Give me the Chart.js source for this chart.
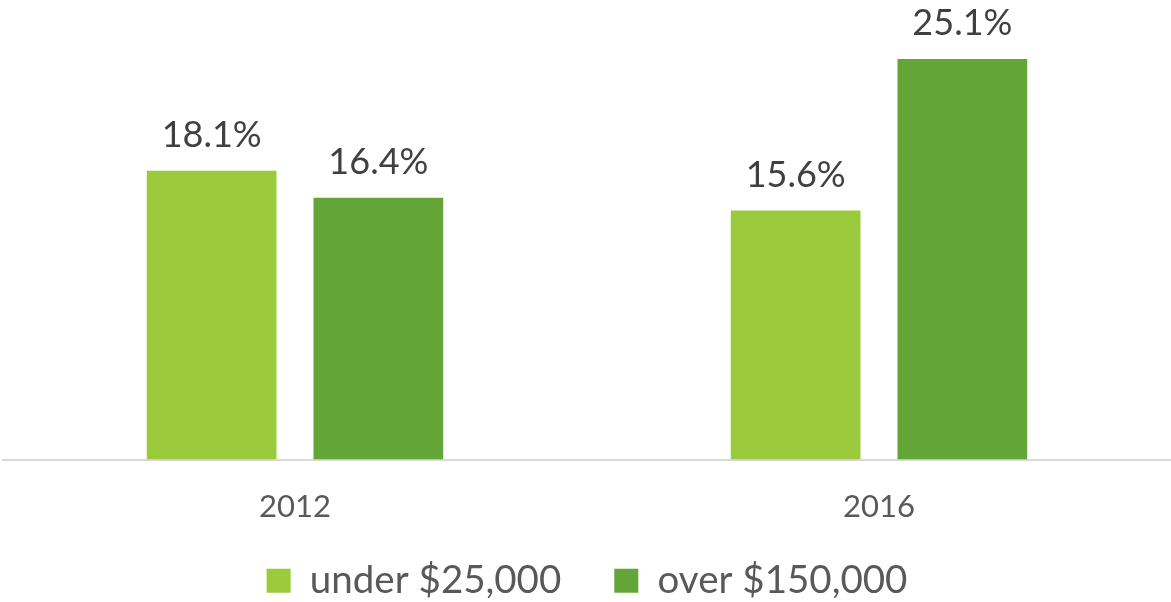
<!DOCTYPE html>
<html>
<head>
<meta charset="utf-8">
<script src="https://cdn.jsdelivr.net/npm/chart.js@4"></script>
<style>
  html, body { margin: 0; padding: 0; background: #ffffff; }
  #wrap { width: 1171px; height: 602px; }
</style>
</head>
<body>
<div id="wrap"><canvas id="chart"></canvas></div>
<script>
// chart data
const years = ['2012', '2016'];
const seriesNames = ['under $25,000', 'over $150,000'];
const under25k = [18.1, 15.6];
const over150k = [16.4, 25.1];

const lightGreen = '#9bcb3c';
const darkGreen = '#63a537';
const fontFamily = 'Lato, "Open Sans", sans-serif';

// draws the value above each bar
const valueLabels = {
    id: 'valueLabels',
    afterDatasetsDraw(chart) {
        const ctx = chart.ctx;
        ctx.save();
        ctx.font = '36px ' + fontFamily;
        ctx.fillStyle = '#404040';
        ctx.textAlign = 'center';
        ctx.textBaseline = 'alphabetic';
        chart.data.datasets.forEach((ds, i) => {
            chart.getDatasetMeta(i).data.forEach((bar, j) => {
                ctx.fillText(ds.data[j].toFixed(1) + '%', bar.x, bar.y - 24);
            });
        });
        ctx.restore();
    }
};

new Chart(document.getElementById('chart').getContext('2d'), {
    type: 'bar',
    data: {
        labels: years,
        datasets: [
            { label: seriesNames[0], data: under25k, backgroundColor: lightGreen },
            { label: seriesNames[1], data: over150k, backgroundColor: darkGreen }
        ]
    },
    options: {
        responsive: true,
        maintainAspectRatio: false,
        animation: false,
        layout: { padding: { left: 3, right: 0, top: 0, bottom: -8 } },
        categoryPercentage: 0.571,
        barPercentage: 0.778,
        plugins: {
            legend: {
                position: 'bottom',
                labels: {
                    boxWidth: 24,
                    boxHeight: 24,
                    padding: 53,
                    color: '#595959',
                    font: { family: fontFamily, size: 38.5 }
                }
            },
            tooltip: { enabled: false }
        },
        scales: {
            x: {
                grid: { display: false, drawTicks: false },
                border: { display: true, color: '#d9d9d9', width: 2 },
                ticks: {
                    color: '#595959',
                    padding: 29,
                    font: { family: fontFamily, size: 31 }
                },
                afterFit(scale) {
                    // squeeze the axis box so the legend sits closer; don't clip the labels
                    scale.height = 49;
                    scale._computeLabelArea = () => undefined;
                }
            },
            y: {
                display: false,
                min: 0,
                max: 28.8
            }
        }
    },
    plugins: [valueLabels]
});
</script>
</body>
</html>
